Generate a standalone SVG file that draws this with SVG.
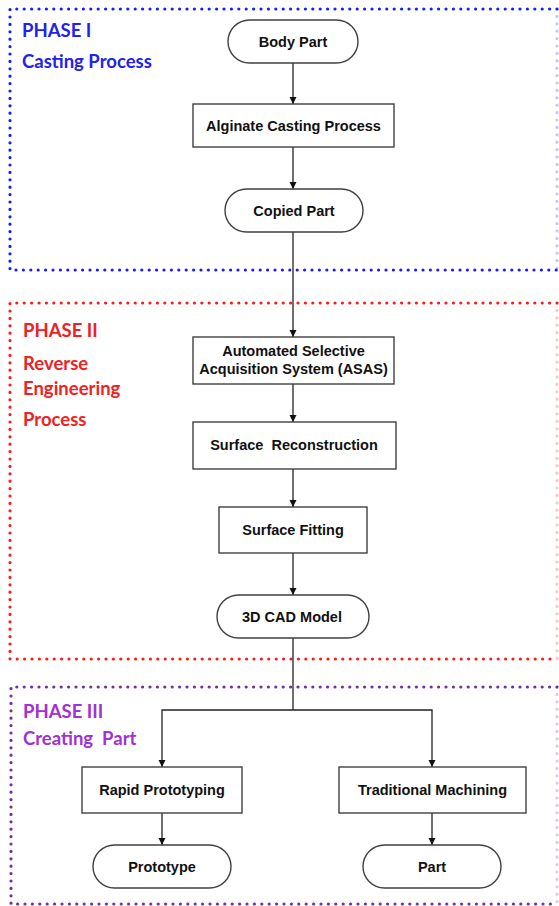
<svg xmlns="http://www.w3.org/2000/svg" width="559" height="906" viewBox="0 0 559 906">
<style>
text{white-space:pre}
.bg{fill:#ffffff}
.dot{fill:none;stroke-width:3.2;stroke-linecap:round;stroke-dasharray:0 7.4}
.faint{opacity:0.25}
.b{stroke:#1a1aff}
.r{stroke:#ff1a1a}
.p{stroke:#7030a0}
.ph{font-family:"Lato","Open Sans",sans-serif;font-weight:700;font-size:18.5px}
.tb{fill:#2222ee}
.tr{fill:#ee2222}
.tp{fill:#a030d8}
.node rect{fill:#ffffff;stroke:#404040;stroke-width:1.4}
.node text{font-family:"Liberation Sans",Arial,sans-serif;font-weight:700;font-size:14.5px;fill:#111111;text-anchor:middle}
.conn path{fill:none;stroke:#222222;stroke-width:1.3}
</style>
<defs>
<marker id="ah" markerWidth="10" markerHeight="10" refX="8" refY="5" orient="auto" markerUnits="userSpaceOnUse">
<path d="M1,1.5 L8,5 L1,8.5 Z" fill="#111111"/>
</marker>
</defs>
<rect class="bg" x="0" y="0" width="559" height="906"/>

<g id="phase1">
<path class="dot b" d="M557,9 L10,9 L10,270 L557,270"/>
<path class="dot b faint" d="M557,9 L557,270"/>
<text class="ph tb" x="22" y="37">PHASE I</text>
<text class="ph tb" x="22" y="68">Casting Process</text>
</g>
<g id="phase2">
<path class="dot r" d="M557,303 L10,303 L10,659 L557,659"/>
<path class="dot r faint" d="M557,303 L557,659"/>
<text class="ph tr" x="23" y="337">PHASE II</text>
<text class="ph tr" x="23" y="370">Reverse</text>
<text class="ph tr" x="23" y="395">Engineering</text>
<text class="ph tr" x="23" y="426">Process</text>
</g>
<g id="phase3">
<path class="dot p" d="M557,687 L11,687 L11,904 L557,904"/>
<path class="dot p faint" d="M557,687 L557,904"/>
<text class="ph tp" x="23" y="718">PHASE III</text>
<text class="ph tp" x="23" y="745">Creating  Part</text>
</g>

<g class="conn" id="connectors">
<path d="M293,63 L293,104" marker-end="url(#ah)"/>
<path d="M293,147 L293,189" marker-end="url(#ah)"/>
<path d="M293,232 L293,337" marker-end="url(#ah)"/>
<path d="M293,384 L293,422" marker-end="url(#ah)"/>
<path d="M293,469 L293,507" marker-end="url(#ah)"/>
<path d="M293,553 L293,595" marker-end="url(#ah)"/>
<path d="M293,638 L293,710"/>
<path d="M293,710 L162,710 L162,767" marker-end="url(#ah)"/>
<path d="M293,710 L432,710 L432,767" marker-end="url(#ah)"/>
<path d="M162,813 L162,845" marker-end="url(#ah)"/>
<path d="M432,813 L432,845" marker-end="url(#ah)"/>
</g>

<g class="node" id="body-part"><rect x="228" y="20" width="130" height="43" rx="21.5"/><text x="293" y="47">Body Part</text></g>
<g class="node" id="alginate"><rect x="193" y="104" width="201" height="43"/><text x="293.5" y="131">Alginate Casting Process</text></g>
<g class="node" id="copied-part"><rect x="225" y="189" width="138" height="43" rx="21.5"/><text x="294" y="216">Copied Part</text></g>
<g class="node" id="asas"><rect x="193" y="337" width="201" height="47"/><text x="293.5" y="356">Automated Selective</text><text x="293.5" y="374">Acquisition System (ASAS)</text></g>
<g class="node" id="surface-recon"><rect x="193" y="422" width="203" height="47"/><text x="294" y="450">Surface  Reconstruction</text></g>
<g class="node" id="surface-fitting"><rect x="219" y="507" width="148" height="46"/><text x="293" y="535">Surface Fitting</text></g>
<g class="node" id="cad-model"><rect x="217" y="595" width="152" height="43" rx="21.5"/><text x="292" y="622">3D CAD Model</text></g>
<g class="node" id="rapid-proto"><rect x="82" y="767" width="160" height="46"/><text x="162" y="795">Rapid Prototyping</text></g>
<g class="node" id="trad-mach"><rect x="339" y="767" width="187" height="46"/><text x="432.5" y="795">Traditional Machining</text></g>
<g class="node" id="prototype"><rect x="93" y="845" width="138" height="43" rx="21.5"/><text x="162" y="872">Prototype</text></g>
<g class="node" id="part"><rect x="363" y="845" width="138" height="43" rx="21.5"/><text x="432" y="872">Part</text></g>
</svg>
